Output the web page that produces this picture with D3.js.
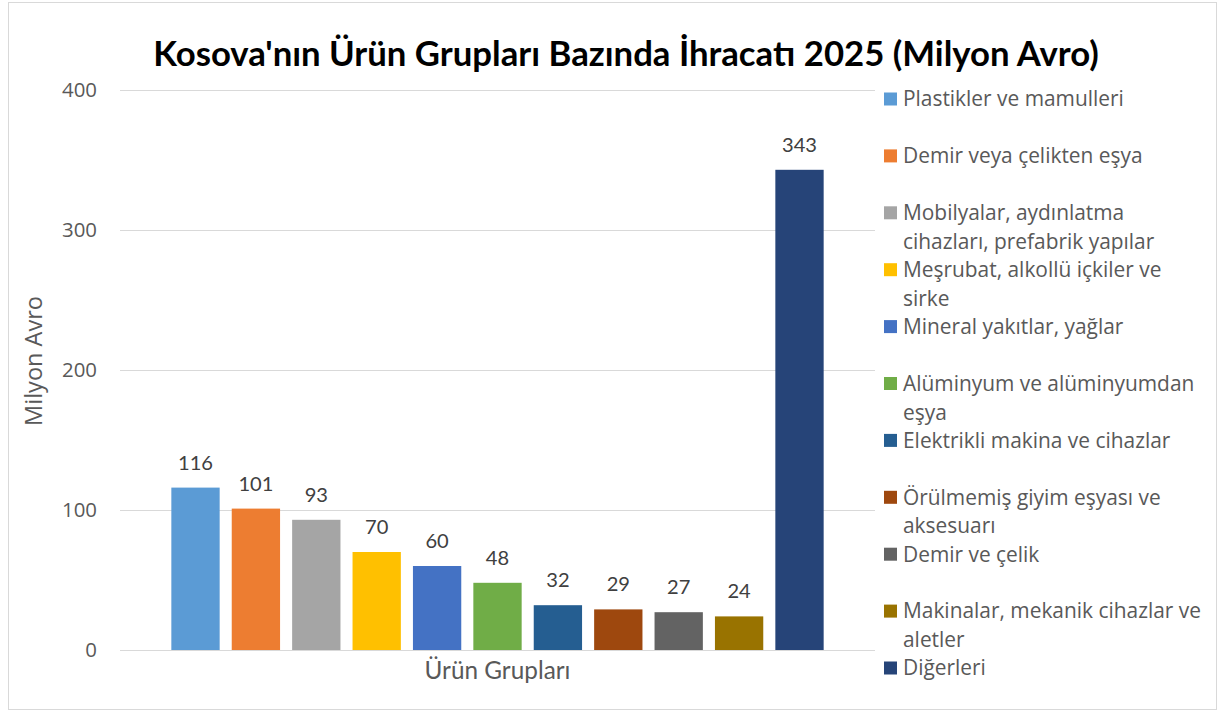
<!DOCTYPE html>
<html>
<head>
<meta charset="utf-8">
<script src="https://cdn.jsdelivr.net/npm/d3@7"></script>
<style>
  body { margin: 0; background: #fff; }
  svg { display: block; }
</style>
</head>
<body>
<div id="chart"></div>
<script>
const categories = [
  'Plastikler ve mamulleri',
  'Demir veya çelikten eşya',
  'Mobilyalar, aydınlatma cihazları, prefabrik yapılar',
  'Meşrubat, alkollü içkiler ve sirke',
  'Mineral yakıtlar, yağlar',
  'Alüminyum ve alüminyumdan eşya',
  'Elektrikli makina ve cihazlar',
  'Örülmemiş giyim eşyası ve aksesuarı',
  'Demir ve çelik',
  'Makinalar, mekanik cihazlar ve aletler',
  'Diğerleri',
];
const values = [116, 101, 93, 70, 60, 48, 32, 29, 27, 24, 343];
const colors = ['#5B9BD5', '#ED7D31', '#A5A5A5', '#FFC000', '#4472C4', '#70AD47',
  '#255E91', '#9E480E', '#636363', '#997300', '#264478'];
const yTicks = [0, 100, 200, 300, 400];
const titleText = "Kosova'nın Ürün Grupları Bazında İhracatı 2025 (Milyon Avro)";
const yTitleText = 'Milyon Avro';
const xTitleText = 'Ürün Grupları';

{
  const W = 1219;
  const H = 711;
  const plot = { left: 120, right: 875, top: 90, bottom: 650 };
  const textColor = '#595959';

  // scale font-size so the text spans the wanted width
  const fitWidth = (sel, target) => {
    const w = sel.node().getComputedTextLength();
    const fs = parseFloat(sel.attr('font-size'));
    sel.attr('font-size', fs * target / w);
    return fs * target / w;
  };

  const svg = d3.select('#chart').append('svg')
    .attr('width', W)
    .attr('height', H);

  svg.append('rect')
    .attr('width', W).attr('height', H).attr('fill', '#fff');

  svg.append('rect')
    .attr('x', 8.5).attr('y', 2.5)
    .attr('width', 1208).attr('height', 707)
    .attr('fill', 'none')
    .attr('stroke', '#d9d9d9');

  const data = categories.map((c, i) => ({ cat: c, value: values[i], color: colors[i] }));

  const x = d3.scaleBand()
    .domain(categories)
    .range([plot.left, plot.right])
    .paddingInner(0.2)
    .paddingOuter(0.85);

  const y = d3.scaleLinear()
    .domain([0, 400])
    .range([plot.bottom, plot.top]);

  // grid
  svg.append('g')
    .selectAll('line')
    .data(yTicks)
    .join('line')
    .attr('x1', plot.left).attr('x2', plot.right)
    .attr('y1', d => Math.round(y(d)) + 0.5)
    .attr('y2', d => Math.round(y(d)) + 0.5)
    .attr('stroke', '#d9d9d9')
    .attr('stroke-width', 1);

  // y axis labels
  const yAxis = svg.append('g')
    .attr('transform', `translate(${plot.left},0)`)
    .call(d3.axisLeft(y).tickValues(yTicks).tickSize(0).tickPadding(23));
  yAxis.select('.domain').remove();
  const tickText = yAxis.selectAll('text')
    .attr('font-family', '"Open Sans", sans-serif')
    .attr('font-size', 20)
    .attr('fill', textColor);
  const tickSize = fitWidth(tickText.filter(d => d === 400), 35);
  tickText.attr('font-size', tickSize);

  // bars
  svg.append('g')
    .selectAll('rect')
    .data(data)
    .join('rect')
    .attr('x', d => x(d.cat))
    .attr('y', d => y(d.value))
    .attr('width', x.bandwidth())
    .attr('height', d => y(0) - y(d.value))
    .attr('fill', d => d.color);

  // value labels
  const labels = svg.append('g')
    .selectAll('text')
    .data(data)
    .join('text')
    .attr('x', d => x(d.cat) + x.bandwidth() / 2)
    .attr('y', d => y(d.value) - 18)
    .attr('text-anchor', 'middle')
    .attr('font-family', 'Lato, sans-serif')
    .attr('font-size', 20)
    .attr('fill', '#404040')
    .text(d => d.value);
  const lblSize = fitWidth(labels.filter((d, i) => i === 0), 35);
  labels.attr('font-size', lblSize);

  // title
  const title = svg.append('text')
    .attr('x', 626)
    .attr('y', 66)
    .attr('text-anchor', 'middle')
    .attr('font-family', 'Lato, sans-serif')
    .attr('font-weight', 'bold')
    .attr('font-size', 32)
    .attr('fill', '#000')
    .text(titleText);
  fitWidth(title, 946);

  // axis titles
  const yTitle = svg.append('text')
    .attr('transform', 'translate(42,361) rotate(-90)')
    .attr('text-anchor', 'middle')
    .attr('font-family', '"Open Sans", sans-serif')
    .attr('font-size', 20)
    .attr('fill', textColor)
    .text(yTitleText);
  fitWidth(yTitle, 130);

  const xTitle = svg.append('text')
    .attr('x', (plot.left + plot.right) / 2)
    .attr('y', 679)
    .attr('text-anchor', 'middle')
    .attr('font-family', 'Lato, sans-serif')
    .attr('font-size', 22)
    .attr('fill', textColor)
    .text(xTitleText);
  fitWidth(xTitle, 146);

  // legend
  const legendX = 884;
  const legendTop = 99;
  const itemStep = 56.9;
  const lineH = 28.8;
  const maxW = 302;

  const legend = svg.append('g')
    .selectAll('g')
    .data(data)
    .join('g')
    .attr('transform', (d, i) => `translate(${legendX},${legendTop + i * itemStep})`);

  legend.append('rect')
    .attr('x', 0).attr('y', -6.5)
    .attr('width', 13).attr('height', 13)
    .attr('fill', d => d.color);

  const legendText = legend.append('text')
    .attr('x', 19)
    .attr('font-family', '"Open Sans", sans-serif')
    .attr('font-size', 18)
    .attr('fill', textColor);

  // size from first label, then wrap
  const probe = legendText.filter((d, i) => i === 0).text(d => d.cat);
  const legSize = fitWidth(probe, 221);
  legendText.attr('font-size', legSize).text(null);

  legendText.each(function (d) {
    const t = d3.select(this);
    const words = d.cat.split(' ');
    let line = [];
    let lineNo = 0;
    let tspan = t.append('tspan').attr('x', 19).attr('y', 0).attr('dy', '0.35em');
    words.forEach((w) => {
      line.push(w);
      tspan.text(line.join(' '));
      if (tspan.node().getComputedTextLength() > maxW && line.length > 1) {
        line.pop();
        tspan.text(line.join(' '));
        line = [w];
        lineNo += 1;
        tspan = t.append('tspan')
          .attr('x', 19)
          .attr('y', lineNo * lineH)
          .attr('dy', '0.35em')
          .text(w);
      }
    });
  });
}
</script>
</body>
</html>
